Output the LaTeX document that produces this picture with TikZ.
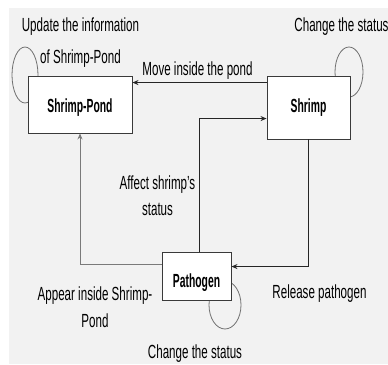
\documentclass[tikz,border=0pt]{standalone}
\usepackage{fontspec}
\setmainfont{Liberation Sans}[FakeStretch=0.61]
\newfontfamily\boxfont{Liberation Sans Bold}[FakeStretch=0.545]
\usetikzlibrary{arrows.meta}
\definecolor{bggray}{HTML}{F2F2F2}
\definecolor{edgegray}{HTML}{3A3A3A}
\definecolor{loopgray}{HTML}{707070}
\definecolor{linegray}{HTML}{7A7A7A}
\begin{document}
\begin{tikzpicture}[x=1pt,y=-1pt,
  stage/.style={draw=edgegray, line width=0.9pt, fill=white, inner sep=0pt,
                font=\boxfont\fontsize{19}{21}\selectfont},
  arr/.style={draw=black!85, line width=1pt, -{Stealth[length=6pt,width=5pt]}},
  arrgray/.style={draw=linegray, line width=0.9pt, -{Stealth[length=6pt,width=5pt,fill=black!80]}},
  selfloop/.style={draw=loopgray, line width=0.8pt},
  lbl/.style={inner sep=0pt, font=\fontsize{19}{26}\selectfont, align=center}]
  % canvas
  \useasboundingbox (0,0) rectangle (388,364);
  \fill[white] (0,0) rectangle (388,364);
  \fill[bggray] (9,8) rectangle (388,364);

  % self loops, partly hidden behind the boxes
  \draw[selfloop] (25,75) ellipse [x radius=13, y radius=28];
  \draw[selfloop] (349,72) ellipse [x radius=14, y radius=25];
  \draw[selfloop] (225,305) ellipse [x radius=16, y radius=24];

  % state boxes
  \node[stage, minimum width=104pt, minimum height=57pt, text height=15pt, text depth=0pt]
    (pond) at (80,104.5) {Shrimp-Pond};
  \node[stage, minimum width=83pt, minimum height=63pt, text height=12pt, text depth=3pt]
    (shrimp) at (308.5,107.5) {Shrimp};
  \node[stage, minimum width=69pt, minimum height=48pt, text height=22pt, text depth=0pt]
    (pathogen) at (196.5,276) {Pathogen};

  % transitions
  \draw[arr] ([yshift=-7pt]shrimp.north west) -- ([yshift=-7pt]pond.north east);
  \draw[arr] ([xshift=2.5pt]pathogen.north) |- ([yshift=-43pt]shrimp.north west);
  \draw[arr] (shrimp.south) |- ([yshift=-15pt]pathogen.north east);
  \draw[arrgray] ([yshift=-13pt]pathogen.north west) -| (pond.south);

  % labels
  \node[lbl, anchor=north, font=\fontsize{19}{32}\selectfont] (lupdate) at (80.5,17.5)
    {Update the information\\of Shrimp-Pond};
  \node[lbl, anchor=base] (lchangetop) at (341.5,31) {Change the status};
  \node[lbl, anchor=base] (lmove) at (197.5,75) {Move inside the pond};
  \node[lbl, anchor=north] (laffect) at (157.5,175.5) {Affect shrimp’s\\status};
  \node[lbl, anchor=north, font=\fontsize{19}{27}\selectfont] (lappear) at (95,286.5)
    {Appear inside Shrimp-\\Pond};
  \node[lbl, anchor=base] (lrelease) at (319.5,298) {Release pathogen};
  \node[lbl, anchor=base] (lchangebot) at (195,358) {Change the status};
\end{tikzpicture}
\end{document}
